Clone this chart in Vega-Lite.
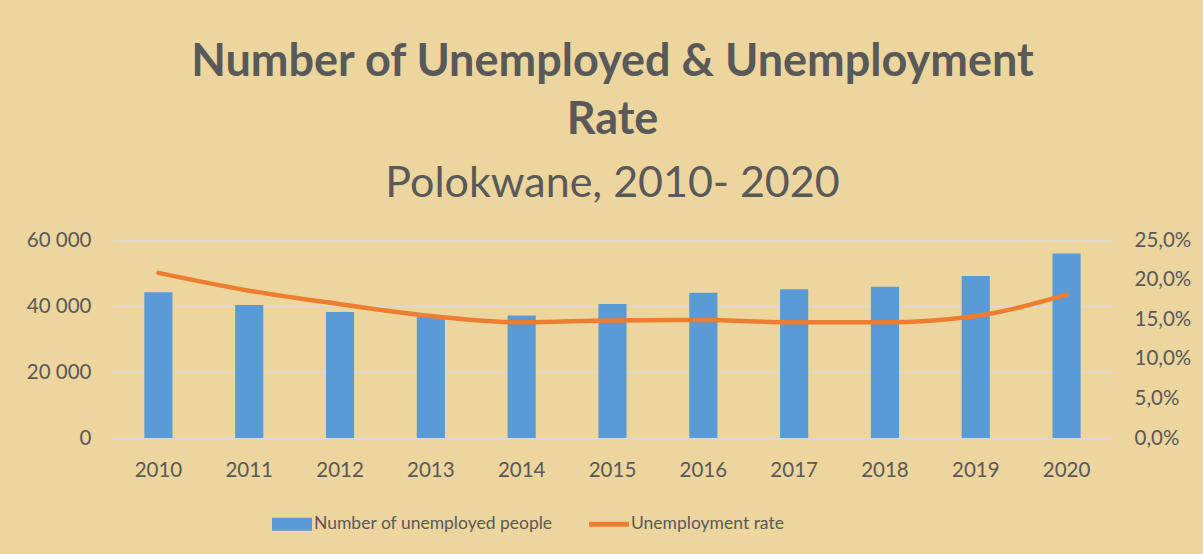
{
  "$schema": "https://vega.github.io/schema/vega-lite/v6.json",
  "autosize": {"type": "none"},
  "width": 999,
  "height": 198,
  "padding": {"left": 113, "top": 240, "right": 91, "bottom": 116},
  "background": "#EDD59E",
  "title": {
    "text": ["Number of Unemployed & Unemployment", "Rate"],
    "subtitle": "Polokwane, 2010- 2020",
    "anchor": "middle",
    "font": "Lato",
    "fontSize": 45,
    "fontWeight": "bold",
    "color": "#595959",
    "lineHeight": 58,
    "subtitleFont": "Lato",
    "subtitleFontSize": 43,
    "subtitleColor": "#595959",
    "subtitlePadding": 20,
    "offset": 24
  },
  "data": {
    "values": [
      {"year": "2010", "unemployed": 44200, "rate": 0.2085},
      {"year": "2011", "unemployed": 40300, "rate": 0.186},
      {"year": "2012", "unemployed": 38200, "rate": 0.169},
      {"year": "2013", "unemployed": 37000, "rate": 0.154},
      {"year": "2014", "unemployed": 37100, "rate": 0.146},
      {"year": "2015", "unemployed": 40600, "rate": 0.1485},
      {"year": "2016", "unemployed": 44000, "rate": 0.149},
      {"year": "2017", "unemployed": 45100, "rate": 0.146},
      {"year": "2018", "unemployed": 45800, "rate": 0.146},
      {"year": "2019", "unemployed": 49100, "rate": 0.154},
      {"year": "2020", "unemployed": 55900, "rate": 0.181}
    ]
  },
  "encoding": {
    "x": {
      "field": "year",
      "type": "ordinal",
      "scale": {"paddingInner": 0.69, "paddingOuter": 0.345},
      "axis": {"title": null, "labelAngle": 0, "domain": false, "ticks": false, "labelPadding": 22, "labelFontSize": 20.5, "labelColor": "#595959", "labelFont": "Lato"}
    }
  },
  "layer": [
    {
      "mark": {"type": "bar"},
      "encoding": {
        "y": {
          "field": "unemployed",
          "type": "quantitative",
          "scale": {"domain": [0, 60000]},
          "axis": {"title": null, "values": [0, 20000, 40000, 60000], "format": ",d", "domain": false, "ticks": false, "labelPadding": 22, "labelFontSize": 20.5, "labelColor": "#595959", "labelFont": "Lato", "gridColor": "#D9D9D9", "gridWidth": 1.5}
        },
        "color": {
          "datum": "Number of unemployed people",
          "scale": {"domain": ["Number of unemployed people", "Unemployment rate"], "range": ["#5B9BD5", "#ED7D31"]},
          "legend": {
            "title": null,
            "orient": "none",
            "legendX": 159,
            "legendY": 264,
            "direction": "horizontal",
            "labelFont": "Lato",
            "labelFontSize": 17.5,
            "labelColor": "#595959",
            "labelLimit": 500,
            "labelOffset": 2,
            "columnPadding": 36,
            "symbolSize": 1600,
            "symbolStrokeWidth": 0,
            "encode": {
              "symbols": {
                "update": {
                  "shape": {"signal": "datum.value === 'Unemployment rate' ? 'M-1,-0.12H1V0.12H-1Z' : 'M-1,-0.33H1V0.33H-1Z'"},
                  "fill": {"signal": "datum.value === 'Unemployment rate' ? '#ED7D31' : '#5B9BD5'"},
                  "strokeWidth": {"value": 0}
                }
              }
            }
          }
        }
      }
    },
    {
      "mark": {"type": "line", "interpolate": "monotone", "strokeWidth": 4.5, "strokeCap": "round"},
      "encoding": {
        "y": {
          "field": "rate",
          "type": "quantitative",
          "scale": {"domain": [0, 0.25]},
          "axis": {"title": null, "orient": "right", "values": [0, 0.05, 0.1, 0.15, 0.2, 0.25], "format": ".1%", "grid": false, "domain": false, "ticks": false, "labelPadding": 22, "labelFontSize": 20.5, "labelColor": "#595959", "labelFont": "Lato"}
        },
        "color": {"datum": "Unemployment rate"}
      }
    }
  ],
  "resolve": {"scale": {"y": "independent"}},
  "config": {
    "locale": {
      "number": {"decimal": ",", "thousands": " ", "grouping": [3], "currency": ["", ""], "percent": "%"}
    },
    "view": {"stroke": null}
  }
}
